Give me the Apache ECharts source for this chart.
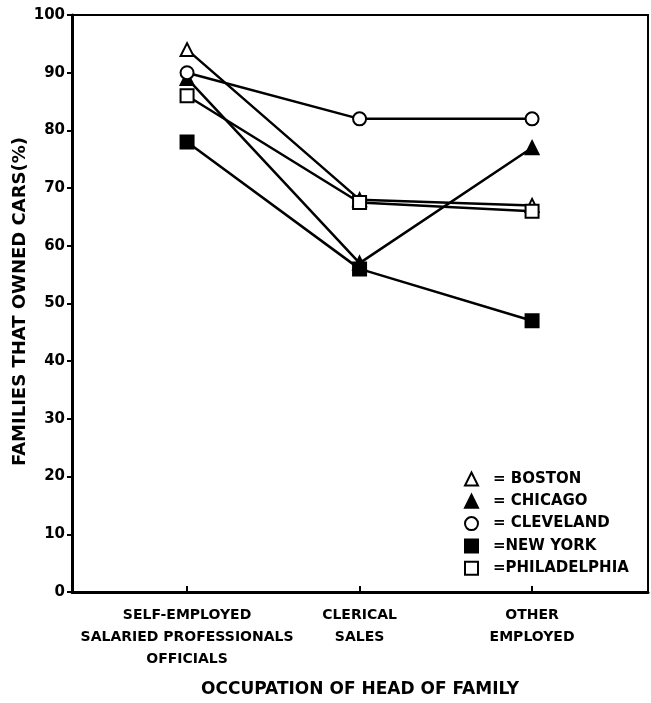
<!DOCTYPE html>
<html>
<head>
<meta charset="utf-8">
<script src="https://cdn.jsdelivr.net/npm/echarts@6/dist/echarts.min.js"></script>
<style>
  html, body { margin: 0; padding: 0; background: #fff; }
  #chart { width: 651px; height: 703px; }
</style>
</head>
<body>
<div id="chart"></div>
<script>
// Occupation groups along the horizontal axis
const categories = [
  'SELF-EMPLOYED\nSALARIED PROFESSIONALS\nOFFICIALS',
  'CLERICAL\nSALES',
  'OTHER\nEMPLOYED'
];

// Share of families that owned cars (%), by city
const boston       = [94, 68, 67];
const chicago      = [89, 57, 77];
const cleveland    = [90, 82, 82];
const newYork      = [78, 56, 47];
const philadelphia = [86, 67.5, 66];

const yTicks = [0, 10, 20, 30, 40, 50, 60, 70, 80, 90, 100];

const FONT = '"DejaVu Sans", "Liberation Sans", sans-serif';
const INK = '#000';

const cities = [
  { name: 'BOSTON',       label: '= BOSTON',      values: boston,       symbol: 'emptyTriangle' },
  { name: 'CHICAGO',      label: '= CHICAGO',     values: chicago,      symbol: 'triangle' },
  { name: 'CLEVELAND',    label: '= CLEVELAND',   values: cleveland,    symbol: 'emptyCircle' },
  { name: 'NEW YORK',     label: '=NEW YORK',     values: newYork,      symbol: 'rect' },
  { name: 'PHILADELPHIA', label: '=PHILADELPHIA', values: philadelphia, symbol: 'emptyRect' }
];

const catIdx = categories.map((_, i) => i);

const chart = echarts.init(document.getElementById('chart'), null, { renderer: 'canvas' });

chart.setOption({
  backgroundColor: '#fff',
  animation: false,
  grid: {
    left: 72, right: 3, top: 15, bottom: 111,
    show: true, borderColor: INK, borderWidth: 2
  },
  xAxis: {
    type: 'value',
    min: -0.667,
    max: 2.672,
    axisLine: { show: true, lineStyle: { color: INK, width: 3 } },
    axisTick: {
      show: true, inside: true, length: 6, customValues: catIdx,
      lineStyle: { color: INK, width: 2 }
    },
    axisLabel: {
      show: true, customValues: catIdx,
      formatter: v => categories[Math.round(v)],
      color: INK, fontFamily: FONT, fontWeight: 'bold', fontSize: 14,
      lineHeight: 22, margin: 12
    },
    splitLine: { show: false },
    name: 'OCCUPATION OF HEAD OF FAMILY',
    nameLocation: 'middle',
    nameGap: 89,
    nameTextStyle: { color: INK, fontFamily: FONT, fontWeight: 'bold', fontSize: 17 }
  },
  yAxis: {
    type: 'value',
    min: 0, max: 100, interval: 10,
    axisLine: { show: true, onZero: false, lineStyle: { color: INK, width: 3 } },
    axisTick: { show: true, length: 5, lineStyle: { color: INK, width: 2 } },
    axisLabel: {
      color: INK, fontFamily: FONT, fontWeight: 'bold', fontSize: 15, margin: 7,
      formatter: v => String(yTicks[yTicks.indexOf(v)])
    },
    splitLine: { show: false }
  },
  legend: {
    orient: 'vertical',
    left: 459, top: 466,
    itemWidth: 13, itemHeight: 13, itemGap: 6.3,
    data: cities.map(c => ({ name: c.name, icon: c.symbol })),
    formatter: n => cities.find(c => c.name === n).label,
    textStyle: {
      color: INK, fontFamily: FONT, fontWeight: 'bold', fontSize: 15,
      lineHeight: 16, padding: [0, 0, 0, 10]
    },
    itemStyle: { color: INK, borderColor: INK, borderWidth: 2 }
  },
  graphic: [{
    type: 'text',
    left: 11, top: 137,
    rotation: Math.PI / 2,
    style: {
      text: 'FAMILIES THAT OWNED CARS(%)',
      fill: INK, font: 'bold 18px ' + FONT
    }
  }],
  series: cities.map(c => ({
    name: c.name,
    type: 'line',
    data: c.values.map((v, i) => [catIdx[i], v]),
    symbol: c.symbol,
    symbolSize: 13,
    showSymbol: true,
    lineStyle: { color: INK, width: 2.5 },
    itemStyle: { color: INK, borderColor: INK, borderWidth: 2 },
    z: 3
  }))
});
</script>
</body>
</html>
